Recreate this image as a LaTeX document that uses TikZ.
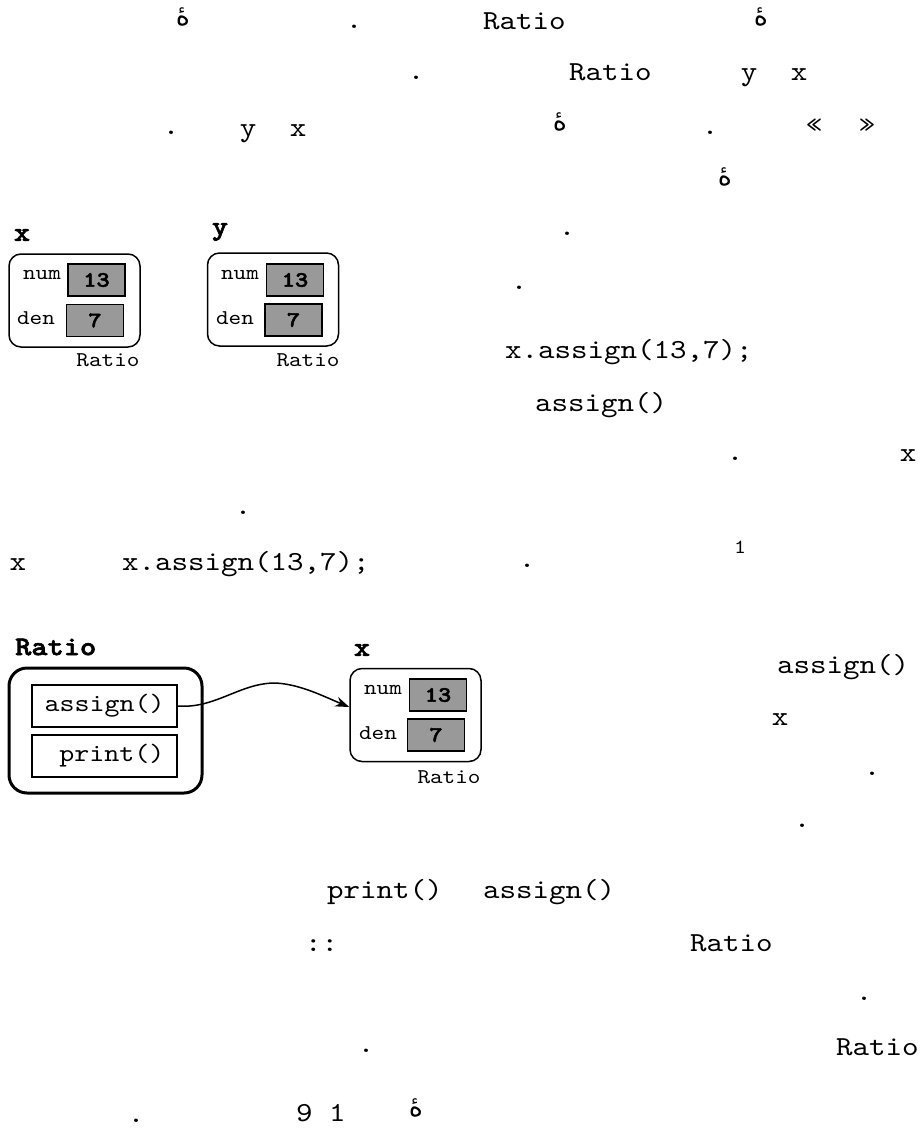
\documentclass[tikz,border=0pt]{standalone}
\usepackage{fontspec}
\setmonofont{lmmono10-regular.otf}[BoldFont=lmmonolt10-bold.otf, FakeStretch=1.143]
\newfontfamily\bmono{lmmonolt10-bold.otf}[FakeStretch=1.143, FakeBold=2.2]
\newfontfamily\arabicfont[Script=Arabic]{DejaVu Sans}
\TeXXeTstate=1
\usetikzlibrary{arrows.meta}
\definecolor{cellgray}{RGB}{153,153,153}
\newcommand\fbody{\ttfamily\fontsize{27.5}{30}\selectfont}
\newcommand\fsmall{\ttfamily\fontsize{21}{24}\selectfont}
\newcommand\fsup{\ttfamily\fontsize{20}{22}\selectfont}
\newcommand\fval{\bmono\fontsize{22}{24}\selectfont}
\newcommand\flabel{\bmono\fontsize{27}{30}\selectfont}
\newcommand\fmeth{\ttfamily\fontsize{25}{28}\selectfont}
\newcommand\farab{\arabicfont\fontsize{27}{30}\selectfont}
\newcommand\heh{\beginR ۀ\endR}
\tikzset{
  txt/.style={font=\fbody, inner sep=0pt, anchor=base west},
  ctxt/.style={font=\fbody, inner sep=0pt, anchor=base},
  arab/.style={font=\farab, inner sep=0pt, anchor=center},
  obj/.style={draw, line width=1.5pt, rounded corners=12pt, minimum width=131pt, minimum height=93pt, inner sep=0pt},
  cell/.style={draw, line width=1.5pt, fill=cellgray, minimum width=57pt, minimum height=32pt, inner sep=0pt, font=\fval},
  fld/.style={font=\fsmall, inner sep=0pt, anchor=center},
  vlabel/.style={font=\flabel, inner sep=0pt, anchor=center},
  cls/.style={draw, line width=3pt, rounded corners=18pt, minimum width=193pt, minimum height=125pt, inner sep=0pt},
  meth/.style={draw, line width=1.5pt, minimum width=145pt, minimum height=42pt, inner sep=0pt, text width=120pt, align=right, font=\fmeth},
  link/.style={line width=1.5pt, -{Stealth[length=14pt,width=10pt]}}
}
\begin{document}
\begin{tikzpicture}[x=1pt,y=-1pt]
\path[use as bounding box] (0,0) rectangle (920,1129);

% line 1
\node[arab] (a1) at (183,17) {\heh};
\node[ctxt] (d1) at (354,29) {.};
\node[txt] (r1) at (483,30) {Ratio};
\node[arab] (a2) at (761,17) {\heh};
% line 2
\node[ctxt] (d2) at (416,80) {.};
\node[txt] (r2) at (569,81) {Ratio};
\node[ctxt] (y2) at (749,81) {y};
\node[ctxt] (x2) at (799,81) {x};
% line 3
\node[ctxt] (d3) at (171,135) {.};
\node[ctxt] (y3) at (248,136) {y};
\node[ctxt] (x3) at (298,136) {x};
\node[arab] (a3) at (560,122) {\heh};
\node[ctxt] (d4) at (710,135) {.};
\node[ctxt] (q1) at (814,134) {«};
\node[ctxt] (q2) at (867,134) {»};
% line 4
\node[arab] (a4) at (725,177) {\heh};
% lines 5-6
\node[ctxt] (d5) at (567,235) {.};
\node[ctxt] (d6) at (519,289) {.};
% lines 7-8
\node[txt] (c1) at (505,358) {x.assign(13,7);};
\node[txt] (c2) at (535,411) {assign()};
% line 9
\node[ctxt] (d7) at (735,460) {.};
\node[ctxt] (x9) at (908,461) {x};
% line 10
\node[ctxt] (d8) at (243,514) {.};
% line 11
\node[ctxt] (x11) at (18,570) {x};
\node[txt] (c3) at (122,570) {x.assign(13,7);};
\node[ctxt] (d9) at (527,567) {.};
\node[font=\fsup, inner sep=0pt] (fn) at (740,547) {1};

% diagram 1: x and y objects
\node[vlabel] (xl) at (22,235) {x};
\node[obj] (xo) at (74.5,300.5) {};
\node[cell] (xn) at (96.5,280) {13};
\node[cell] (xd) at (95,320.5) {7};
\node[fld] (xnum) at (42,275) {num};
\node[fld] (xden) at (36,318) {den};
\node[fld] (xr) at (108,360) {Ratio};

\node[vlabel] (yl) at (220,232) {y};
\node[obj] (yo) at (273,299.5) {};
\node[cell] (yn) at (295,280) {13};
\node[cell] (yd) at (293.5,320) {7};
\node[fld] (ynum) at (240,275) {num};
\node[fld] (yden) at (235,318) {den};
\node[fld] (yr) at (308,360) {Ratio};

% diagram 2: class Ratio and object x
\node[vlabel, anchor=west] (rl) at (15,647) {Ratio};
\node[cls] (rc) at (105.5,730.5) {};
\node[meth] (ma) at (104.5,706) {assign()};
\node[meth] (mp) at (104.5,756) {print()};

\node[vlabel] (xl2) at (362,650) {x};
\node[obj] (xo2) at (415.5,715) {};
\node[cell] (xn2) at (438,695) {13};
\node[cell] (xd2) at (436,735) {7};
\node[fld] (xnum2) at (383,690) {num};
\node[fld] (xden2) at (378,733) {den};
\node[fld] (xr2) at (449,777) {Ratio};
\coordinate (tip) at ([yshift=8pt]xo2.west);
\draw[link] (ma.east) .. controls (215,709) and (240,683) .. (275,683)
  .. controls (300,684) and (325,697) .. (tip);

% right column
\node[txt] (c4) at (777,673) {assign()};
\node[ctxt] (x12) at (780,725) {x};
\node[ctxt] (d10) at (872,775) {.};
\node[ctxt] (d11) at (802,827) {.};

% lower lines
\node[txt] (c5) at (327,898) {print()};
\node[txt] (c6) at (483,898) {assign()};
\node[txt] (cc) at (305,951) {::};
\node[txt] (r3) at (690,951) {Ratio};
\node[ctxt] (d12) at (864,1000) {.};
\node[ctxt] (d13) at (366,1052) {.};
\node[txt] (r4) at (836,1055) {Ratio};
\node[ctxt] (d14) at (136,1122) {.};
\node[txt] (n91) at (296,1121) {9 1};
\node[arab] (a5) at (416,1108) {\heh};
\end{tikzpicture}
\end{document}
